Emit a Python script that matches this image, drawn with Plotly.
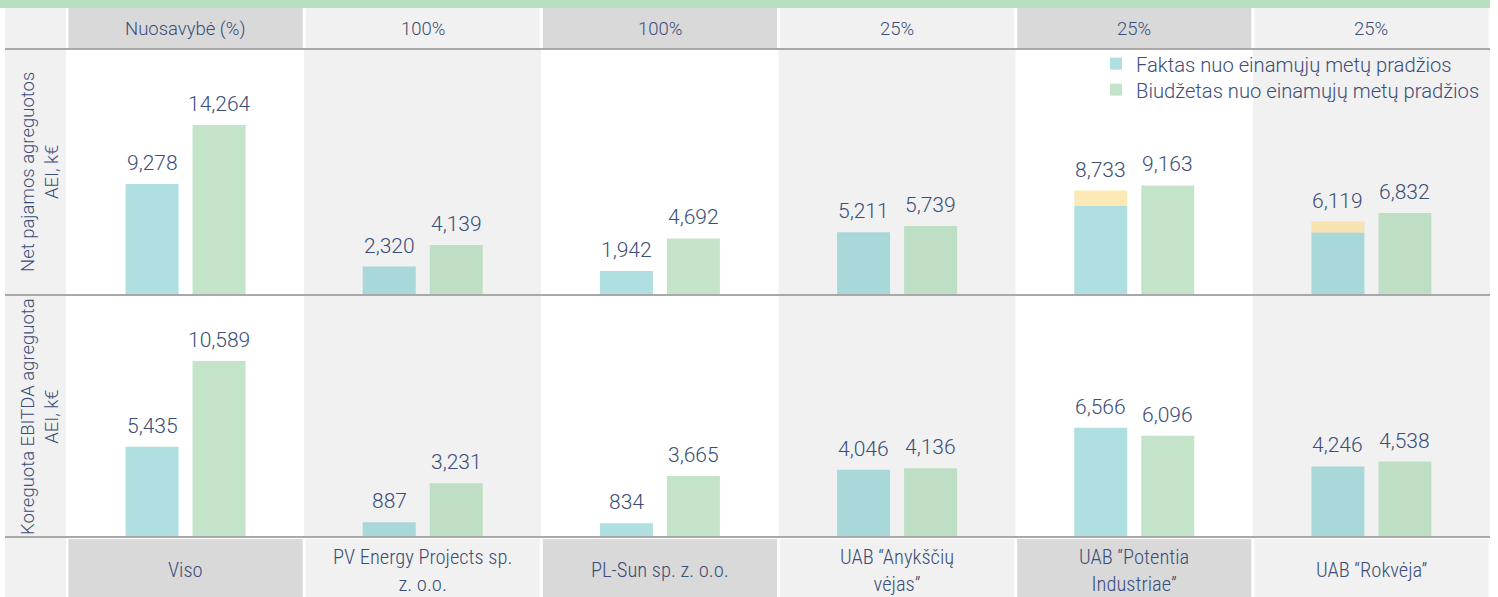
import plotly.graph_objects as go

# ---------------- data ----------------
companies = ["Viso", "PV Energy Projects sp.<br>z. o.o.", "PL-Sun sp. z. o.o.",
             "UAB “Anykščių<br>vėjas”", "UAB “Potentia<br>Industriae”", "UAB “Rokvėja”"]
ownership = ["Nuosavybė (%)", "100%", "100%", "25%", "25%", "25%"]

net_fact_total = [9278, 2320, 1942, 5211, 8733, 6119]
net_fact_part = [9278, 2320, 1942, 5211, 7450, 5200]   # teal part of the bar
net_budget = [14264, 4139, 4692, 5739, 9163, 6832]

ebitda_fact = [5435, 887, 834, 4046, 6566, 4246]
ebitda_budget = [10589, 3231, 3665, 4136, 6096, 4538]

row_titles = ["Net pajamos agreguotos<br>AEI, k€", "Koreguota EBITDA agreguota<br>AEI, k€"]
legend_names = ["Faktas nuo einamųjų metų pradžios", "Biudžetas nuo einamųjų metų pradžios"]

# ---------------- style ----------------
W, H = 1498, 597
TXT = "#3b4e78"
FONT = "Roboto"
TEAL = "rgba(85,187,190,0.47)"
GREEN = "rgba(160,211,170,0.62)"
YELLOW = "rgba(250,215,120,0.55)"
DARK = "#d9d9d9"
LIGHT = "#f1f1f1"
LINE = "#a9a9a9"

X0, X1 = 67, 1490
BARGAP = 0.435
GROUPGAP = 0.209
cat_px = (X1 - X0) / len(companies)
slot_px = cat_px * (1 - BARGAP) / 2


def py(p):  # pixel row -> paper
    return 1 - p / H


def px(p):
    return p / W


cats = list(range(len(companies)))
yellow_part = [t - p for t, p in zip(net_fact_total, net_fact_part)]

fig = go.Figure()
fig.add_bar(x=cats, y=net_fact_part, marker_color=TEAL, name=legend_names[0],
            offsetgroup="f", xaxis="x", yaxis="y", legend="legend")
fig.add_bar(x=cats, y=yellow_part, base=net_fact_part, marker_color=YELLOW,
            offsetgroup="f", xaxis="x", yaxis="y", showlegend=False)
fig.add_bar(x=cats, y=net_budget, marker_color=GREEN, name=legend_names[1],
            offsetgroup="b", xaxis="x", yaxis="y", legend="legend2")
fig.add_bar(x=cats, y=ebitda_fact, marker_color=TEAL, offsetgroup="f",
            xaxis="x2", yaxis="y2", showlegend=False)
fig.add_bar(x=cats, y=ebitda_budget, marker_color=GREEN, offsetgroup="b",
            xaxis="x2", yaxis="y2", showlegend=False)
fig.update_traces(marker_line_width=0, hoverinfo="skip")

shapes = []
annotations = []

# top green band
shapes.append(dict(type="rect", xref="paper", yref="paper", x0=0, x1=px(X1),
                   y0=py(8), y1=py(0), fillcolor="#b8e0c0", line_width=0, layer="below"))
# left column
shapes.append(dict(type="rect", xref="paper", yref="paper", x0=px(5), x1=px(66),
                   y0=0, y1=py(8), fillcolor=LIGHT, line_width=0, layer="below"))
for i in cats:
    hdr = DARK if i % 2 == 0 else LIGHT
    body = "white" if i % 2 == 0 else LIGHT
    for (a, b, c) in [(8, 48, hdr), (50, 537, body), (539, 597, hdr)]:
        shapes.append(dict(type="rect", xref="x", yref="paper", x0=i - 0.5, x1=i + 0.5,
                           y0=py(b), y1=py(a), fillcolor=c, line_width=0, layer="below"))
# white gaps between header / footer cells
for i in range(-1, len(cats)):
    for (a, b) in [(8, 48), (539, 597)]:
        shapes.append(dict(type="line", xref="x", yref="paper", x0=i + 0.5, x1=i + 0.5,
                           y0=py(b), y1=py(a), line=dict(color="white", width=3), layer="below"))
# separators
for yy in [49, 295, 537]:
    shapes.append(dict(type="line", xref="paper", yref="paper", x0=px(5), x1=px(X1),
                       y0=py(yy), y1=py(yy), line=dict(color=LINE, width=2), layer="above"))

# header / footer texts
for i in cats:
    annotations.append(dict(x=i, xref="x", y=py(29), yref="paper", text=ownership[i],
                            xanchor="center", yanchor="middle", showarrow=False,
                            font=dict(size=18.5, color=TXT, family=FONT, weight=300)))
    annotations.append(dict(x=i, xref="x", y=py(570), yref="paper", text=companies[i],
                            xanchor="center", yanchor="middle", showarrow=False,
                            font=dict(size=20.5, color=TXT,
                                      family="Roboto Condensed, Liberation Sans Narrow, Roboto",
                                      weight=300)))
# row titles
for t, (a, b) in zip(row_titles, [(50, 294), (297, 537)]):
    annotations.append(dict(x=px(40), xref="paper", y=py((a + b) / 2), yref="paper", text=t,
                            textangle=-90, xanchor="center", yanchor="middle", showarrow=False,
                            font=dict(size=18.5, color=TXT, family=FONT, weight=300)))

# value labels
def add_values(vals, ax, shift):
    for i, v in enumerate(vals):
        annotations.append(dict(x=i, xref=ax[0], y=v, yref=ax[1], text=f"{v:,}",
                                xshift=shift, yshift=7, xanchor="center", yanchor="bottom",
                                showarrow=False,
                                font=dict(size=21, color=TXT, family=FONT, weight=300)))


add_values(net_fact_total, ("x", "y"), -slot_px / 2)
add_values(net_budget, ("x", "y"), slot_px / 2)
add_values(ebitda_fact, ("x2", "y2"), -slot_px / 2)
add_values(ebitda_budget, ("x2", "y2"), slot_px / 2)

ax_common = dict(showgrid=False, zeroline=False, showticklabels=False, ticks="",
                 showline=False, fixedrange=True)
leg_common = dict(xanchor="left", yanchor="middle", bgcolor="rgba(0,0,0,0)",
                  font=dict(size=20.2, color=TXT, family=FONT, weight=300),
                  itemwidth=30, borderwidth=0)
fig.update_layout(
    width=W, height=H,
    margin=dict(l=0, r=0, t=0, b=0),
    paper_bgcolor="white", plot_bgcolor="rgba(0,0,0,0)",
    barmode="group", bargap=BARGAP, bargroupgap=GROUPGAP,
    xaxis=dict(domain=[px(X0), px(X1)], range=[-0.5, 5.5], anchor="y", **ax_common),
    yaxis=dict(domain=[py(294), py(50)], range=[0, 20600], anchor="x", **ax_common),
    xaxis2=dict(domain=[px(X0), px(X1)], range=[-0.5, 5.5], anchor="y2", **ax_common),
    yaxis2=dict(domain=[py(537), py(297)], range=[0, 14440], anchor="x2", **ax_common),
    shapes=shapes, annotations=annotations,
    showlegend=True,
    legend=dict(x=px(1096), y=py(64), **leg_common),
    legend2=dict(x=px(1096), y=py(90), **leg_common),
    font=dict(family=FONT, color=TXT),
)

fig.write_html("out.html", config={"displayModeBar": False},
               post_script="document.body.style.margin='0';document.body.style.overflow='hidden';")
